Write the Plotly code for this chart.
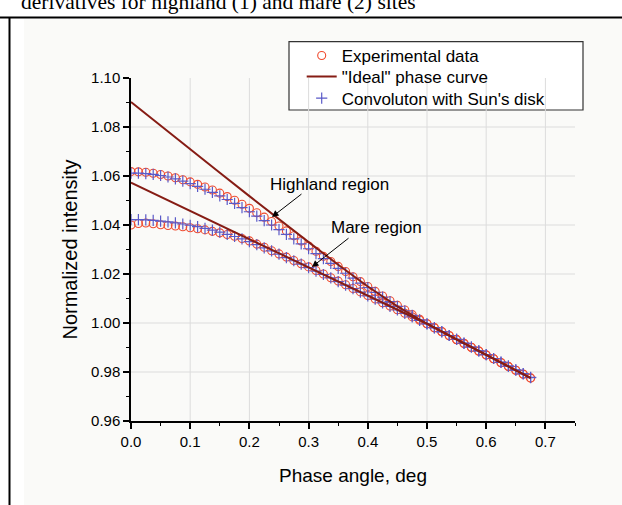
import plotly.graph_objects as go

# ---------------- data ----------------
phase = [0.0, 0.0125, 0.025, 0.0375, 0.05, 0.0625, 0.075, 0.0875, 0.1, 0.1125,
         0.125, 0.1375, 0.15, 0.1625, 0.175, 0.1875, 0.2, 0.2125, 0.225, 0.2375,
         0.25, 0.2625, 0.275, 0.2875, 0.3, 0.3125, 0.325, 0.3375, 0.35, 0.3625,
         0.375, 0.3875, 0.4, 0.4125, 0.425, 0.4375, 0.45, 0.4625, 0.475, 0.4875,
         0.5, 0.5125, 0.525, 0.5375, 0.55, 0.5625, 0.575, 0.5875, 0.6, 0.6125,
         0.625, 0.6375, 0.65, 0.6625, 0.675]

exp_highland = [1.0618, 1.0617, 1.0615, 1.0611, 1.0606, 1.0600, 1.0593, 1.0585, 1.0576, 1.0566,
                1.0555, 1.0543, 1.0530, 1.0516, 1.0501, 1.0485, 1.0468, 1.0450, 1.0432, 1.0414,
                1.0396, 1.0376, 1.0356, 1.0335, 1.0314, 1.0293, 1.0272, 1.0251, 1.0231, 1.0210,
                1.0189, 1.0169, 1.0149, 1.0129, 1.0110, 1.0091, 1.0072, 1.0053, 1.0034, 1.0015,
                0.9997, 0.9980, 0.9964, 0.9948, 0.9932, 0.9916, 0.9900, 0.9885, 0.9869, 0.9854,
                0.9838, 0.9822, 0.9807, 0.9791, 0.9775]

conv_highland = [1.0612, 1.0612, 1.0610, 1.0607, 1.0602, 1.0596, 1.0588, 1.0579, 1.0569, 1.0558,
                 1.0546, 1.0533, 1.0519, 1.0504, 1.0488, 1.0471, 1.0454, 1.0436, 1.0418, 1.0400,
                 1.0381, 1.0362, 1.0343, 1.0323, 1.0303, 1.0283, 1.0263, 1.0243, 1.0223, 1.0203,
                 1.0183, 1.0163, 1.0144, 1.0125, 1.0106, 1.0087, 1.0068, 1.0050, 1.0031, 1.0013,
                 0.9996, 0.9980, 0.9964, 0.9949, 0.9933, 0.9917, 0.9902, 0.9886, 0.9871, 0.9855,
                 0.9840, 0.9824, 0.9809, 0.9793, 0.9778]

exp_mare = [1.0400, 1.0406, 1.0408, 1.0405, 1.0401, 1.0398, 1.0396, 1.0393, 1.0389, 1.0385,
            1.0380, 1.0374, 1.0368, 1.0361, 1.0354, 1.0345, 1.0335, 1.0322, 1.0309, 1.0295,
            1.0282, 1.0269, 1.0255, 1.0242, 1.0229, 1.0214, 1.0200, 1.0185, 1.0171, 1.0156,
            1.0141, 1.0127, 1.0112, 1.0098, 1.0083, 1.0069, 1.0054, 1.0040, 1.0025, 1.0011,
            0.9997, 0.9981, 0.9965, 0.9949, 0.9933, 0.9917, 0.9901, 0.9886, 0.9870, 0.9854,
            0.9839, 0.9823, 0.9807, 0.9792, 0.9776]

conv_mare = [1.0422, 1.0422, 1.0421, 1.0419, 1.0416, 1.0413, 1.0409, 1.0404, 1.0399, 1.0393,
             1.0386, 1.0379, 1.0371, 1.0362, 1.0353, 1.0343, 1.0332, 1.0320, 1.0307, 1.0294,
             1.0281, 1.0267, 1.0254, 1.0240, 1.0226, 1.0212, 1.0198, 1.0184, 1.0169, 1.0155,
             1.0140, 1.0126, 1.0111, 1.0097, 1.0082, 1.0068, 1.0053, 1.0039, 1.0025, 1.0011,
             0.9997, 0.9981, 0.9965, 0.9949, 0.9933, 0.9918, 0.9902, 0.9886, 0.9871, 0.9855,
             0.9839, 0.9824, 0.9808, 0.9792, 0.9777]

ideal_phase = [0.0, 0.05, 0.1, 0.15, 0.2, 0.25, 0.3, 0.35, 0.4, 0.45, 0.5, 0.55, 0.6, 0.65, 0.675]
ideal_highland = [1.0902, 1.0805, 1.0709, 1.0613, 1.0518, 1.0423, 1.0330, 1.0238, 1.0149, 1.0068,
                  0.9997, 0.9932, 0.9869, 0.9807, 0.9775]
ideal_mare = [1.0573, 1.0515, 1.0457, 1.0400, 1.0344, 1.0286, 1.0228, 1.0170, 1.0112, 1.0054,
              0.9997, 0.9933, 0.9870, 0.9808, 0.9776]

x_ticks = [0.0, 0.1, 0.2, 0.3, 0.4, 0.5, 0.6, 0.7]
x_tick_labels = ["0.0", "0.1", "0.2", "0.3", "0.4", "0.5", "0.6", "0.7"]
y_ticks = [0.96, 0.98, 1.00, 1.02, 1.04, 1.06, 1.08, 1.10]
y_tick_labels = ["0.96", "0.98", "1.00", "1.02", "1.04", "1.06", "1.08", "1.10"]
x_grid = [0.1, 0.2, 0.3, 0.4, 0.5, 0.6, 0.7]
y_grid = [0.98, 1.00, 1.02, 1.04, 1.06, 1.08]

legend_names = ["Experimental data", "\"Ideal\" phase curve", "Convoluton with Sun's disk"]
caption = "derivatives for highland (1) and mare (2) sites"

# ---------------- layout helpers ----------------
W, H = 622, 505
ML, MR, MT, MB = 131, 47, 78, 84
PW, PH = W - ML - MR, H - MT - MB


def px(xp):
    return (xp - ML) / PW


def py(yp):
    return (H - MB - yp) / PH


RED = "#f04a2e"
BLUE = "#5a5ac8"
DARK = "#861c14"
FONT = "Liberation Sans, Arial, sans-serif"

fig = go.Figure()

fig.add_trace(go.Scatter(x=phase, y=exp_highland, mode="markers", name=legend_names[0], legend="legend",
                         marker=dict(symbol="circle-open", size=8, color=RED, line=dict(width=1.1, color=RED))))
fig.add_trace(go.Scatter(x=phase, y=exp_mare, mode="markers", name=legend_names[0], showlegend=False,
                         marker=dict(symbol="circle-open", size=8, color=RED, line=dict(width=1.1, color=RED))))
fig.add_trace(go.Scatter(x=phase, y=conv_highland, mode="markers", name=legend_names[2], legend="legend3",
                         marker=dict(symbol="cross-thin", size=8, color=BLUE, line=dict(width=1.2, color=BLUE))))
fig.add_trace(go.Scatter(x=phase, y=conv_mare, mode="markers", name=legend_names[2], showlegend=False,
                         marker=dict(symbol="cross-thin", size=8, color=BLUE, line=dict(width=1.2, color=BLUE))))
fig.add_trace(go.Scatter(x=ideal_phase, y=ideal_highland, mode="lines", name=legend_names[1], legend="legend2",
                         line=dict(color=DARK, width=2)))
fig.add_trace(go.Scatter(x=ideal_phase, y=ideal_mare, mode="lines", name=legend_names[1], showlegend=False,
                         line=dict(color=DARK, width=2)))

shapes = []
# page-like background of the embedded picture
shapes.append(dict(type="rect", xref="paper", yref="paper", x0=px(24), x1=px(622), y0=py(505), y1=py(19),
                   fillcolor="#fafaf8", line=dict(width=0), layer="below"))
# table borders
shapes.append(dict(type="line", xref="paper", yref="paper", x0=px(0), x1=px(622), y0=py(17.5), y1=py(17.5),
                   line=dict(color="black", width=2)))
shapes.append(dict(type="line", xref="paper", yref="paper", x0=px(9.5), x1=px(9.5), y0=py(505), y1=py(17.5),
                   line=dict(color="black", width=2)))
# grid
for gx in x_grid:
    shapes.append(dict(type="line", xref="x", yref="y", x0=gx, x1=gx, y0=y_ticks[0], y1=y_ticks[-1],
                       line=dict(color="#dcdcdc", width=1), layer="below"))
for gy in y_grid:
    shapes.append(dict(type="line", xref="x", yref="y", x0=0, x1=0.75, y0=gy, y1=gy,
                       line=dict(color="#dcdcdc", width=1), layer="below"))
# legend box
shapes.append(dict(type="rect", xref="paper", yref="paper", x0=px(289), x1=px(583), y0=py(110), y1=py(41.7),
                   fillcolor="white", line=dict(color="#333333", width=1.2), layer="below"))

annotations = [
    dict(text="Highland region", x=0.335, y=1.0567, xref="x", yref="y", showarrow=False,
         font=dict(family=FONT, size=17, color="black")),
    dict(text="", x=0.2382, y=1.0433, ax=0.2905, ay=1.0531, xref="x", yref="y", axref="x", ayref="y",
         showarrow=True, arrowhead=2, arrowsize=1.3, arrowwidth=1, arrowcolor="black"),
    dict(text="Mare region", x=0.4142, y=1.0391, xref="x", yref="y", showarrow=False,
         font=dict(family=FONT, size=17, color="black")),
    dict(text="", x=0.3057, y=1.0229, ax=0.370, ay=1.0351, xref="x", yref="y", axref="x", ayref="y",
         showarrow=True, arrowhead=2, arrowsize=1.3, arrowwidth=1, arrowcolor="black"),
    dict(text=caption, x=px(19), y=py(16), xref="paper", yref="paper", xanchor="left", yanchor="bottom",
         showarrow=False, font=dict(family="Liberation Serif, Times New Roman, serif", size=21.5, color="black")),
]


def legend_at(yc):
    return dict(x=px(301.7), y=py(yc), xanchor="left", yanchor="middle",
                bgcolor="rgba(0,0,0,0)", borderwidth=0,
                font=dict(family=FONT, size=17, color="black"), itemsizing="trace")


fig.update_layout(
    width=W, height=H,
    margin=dict(l=ML, r=MR, t=MT, b=MB, pad=0, autoexpand=False),
    paper_bgcolor="white",
    plot_bgcolor="rgba(0,0,0,0)",
    font=dict(family=FONT, color="black"),
    shapes=shapes,
    annotations=annotations,
    showlegend=True,
    legend=legend_at(56),
    legend2=legend_at(77),
    legend3=legend_at(98.5),
    xaxis=dict(range=[0, 0.75], tickvals=x_ticks, ticktext=x_tick_labels,
               showgrid=False, zeroline=False, showline=True, linecolor="black", linewidth=1.5,
               ticks="outside", ticklen=6, tickwidth=1.5, tickcolor="black",
               minor=dict(dtick=0.05, ticks="outside", ticklen=3, tickwidth=1.2, tickcolor="black", showgrid=False),
               tickfont=dict(family=FONT, size=15),
               title=dict(text="Phase angle, deg", font=dict(family=FONT, size=19), standoff=20)),
    yaxis=dict(range=[0.96, 1.10], tickvals=y_ticks, ticktext=y_tick_labels,
               showgrid=False, zeroline=False, showline=True, linecolor="black", linewidth=1.5,
               ticks="outside", ticklen=6, tickwidth=1.5, tickcolor="black",
               minor=dict(dtick=0.01, ticks="outside", ticklen=3, tickwidth=1.2, tickcolor="black", showgrid=False),
               tickfont=dict(family=FONT, size=15),
               title=dict(text="Normalized intensity", font=dict(family=FONT, size=20), standoff=8)),
)

fig.write_html("out.html", config={"displayModeBar": False},
               post_script="document.body.style.margin='0px';")
